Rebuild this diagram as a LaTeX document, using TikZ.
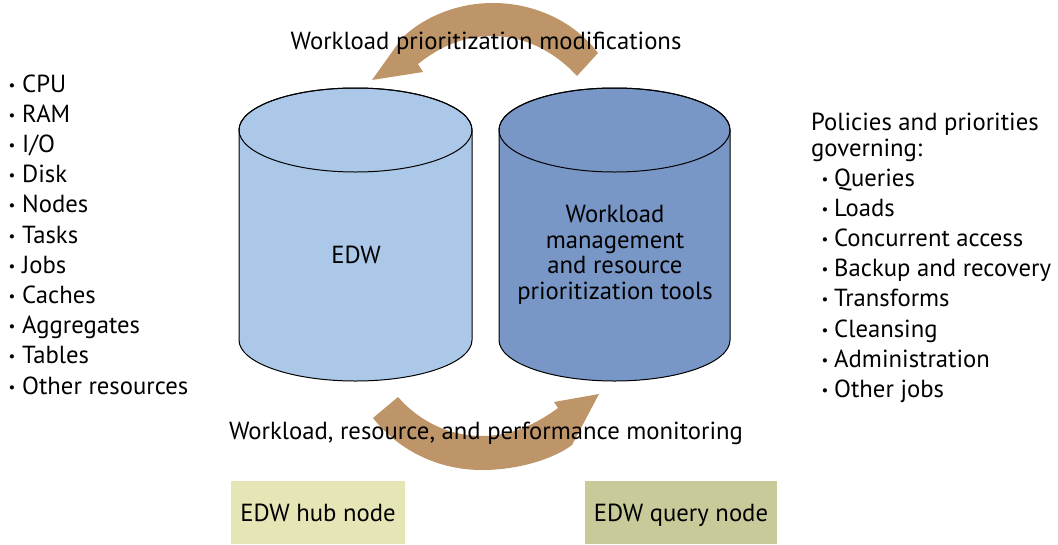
\documentclass[tikz,border=0pt]{standalone}
\usepackage{fontspec}
\setmainfont{PT Sans}
\definecolor{arrowc}{RGB}{190,149,104}
\definecolor{cylA}{RGB}{171,200,232}
\definecolor{cylB}{RGB}{120,150,198}
\definecolor{boxA}{RGB}{229,229,181}
\definecolor{boxB}{RGB}{200,202,154}
\begin{document}
\begin{tikzpicture}[x=1pt,y=-1pt,
  txt/.style={font=\fontsize{24.7}{28}\selectfont, inner sep=0pt},
  bul/.style={font=\fontsize{15}{18}\selectfont, inner sep=0pt, anchor=base},
  cyl/.style={draw=black, line width=1pt},
  boxnode/.style={font=\fontsize{24.7}{28}\selectfont, inner sep=0pt, draw=none,
    text height=17pt, text depth=0pt}]
\useasboundingbox (0,0) rectangle (1058,544);

% arrows
\fill[arrowc] (372,80) -- (402,38) .. controls (425,16) and (458,3) .. (493,3)
  .. controls (535,3) and (575,22) .. (598,53) -- (577,76)
  .. controls (555,52) and (525,36) .. (492,36)
  .. controls (462,36) and (438,48) .. (418,64) -- (423,72) -- cycle;
\fill[arrowc] (398,397) -- (373,418) .. controls (400,452) and (440,470) .. (482,470)
  .. controls (520,470) and (555,458) .. (572,445) -- (599,394) -- (554,402) -- (558,408)
  .. controls (535,425) and (510,436) .. (482,436)
  .. controls (450,436) and (420,422) .. (398,397) -- cycle;

% cylinders
\path[cyl, fill=cylA] (239,130) -- (239,340) arc[start angle=180,end angle=0,x radius=116.5,y radius=41]
  -- (472,130) arc[start angle=0,end angle=-180,x radius=116.5,y radius=42] -- cycle;
\draw[cyl] (355.5,130) ellipse[x radius=116.5,y radius=42];
\path[cyl, fill=cylB] (499,130) -- (499,340) arc[start angle=180,end angle=0,x radius=115.5,y radius=41]
  -- (730,130) arc[start angle=0,end angle=-180,x radius=115.5,y radius=42] -- cycle;
\draw[cyl] (614.5,130) ellipse[x radius=115.5,y radius=42];

\node[txt] (edw) at (356,255) {EDW};
\node[txt, font=\fontsize{24.7}{25.5}\selectfont, align=center] (wm) at (615,255)
  {Workload\\management\\and resource\\prioritization tools};

\node[txt] (toplab) at (486,43) {Workload prioritization modifications};
\node[txt] (botlab) at (486,433) {Workload, resource, and performance monitoring};

% boxes
\node[boxnode, fill=boxA, minimum width=174, minimum height=63] (hub) at (318,512.5) {EDW hub node};
\node[boxnode, fill=boxB, minimum width=192, minimum height=63] (query) at (681,512.5) {EDW query node};

% left list
\foreach \t [count=\i] in {CPU, RAM, I/O, Disk, Nodes, Tasks, Jobs, Caches, Aggregates, Tables, Other resources} {
  \node[txt, anchor=base west] (L\i) at (22,{92+30.2*(\i-1)}) {\t};
  \node[bul] (LB\i) at (12,{90+30.2*(\i-1)}) {•};
}

% right list
\node[txt, anchor=base west] (ph1) at (811,130) {Policies and priorities};
\node[txt, anchor=base west] (ph2) at (811,156) {governing:};
\foreach \t [count=\i] in {Queries, Loads, Concurrent access, Backup and recovery, Transforms, Cleansing, Administration, Other jobs} {
  \node[txt, anchor=base west] (R\i) at (834,{186+30.2*(\i-1)}) {\t};
  \node[bul] (RB\i) at (825,{184+30.2*(\i-1)}) {•};
}
\end{tikzpicture}
\end{document}
